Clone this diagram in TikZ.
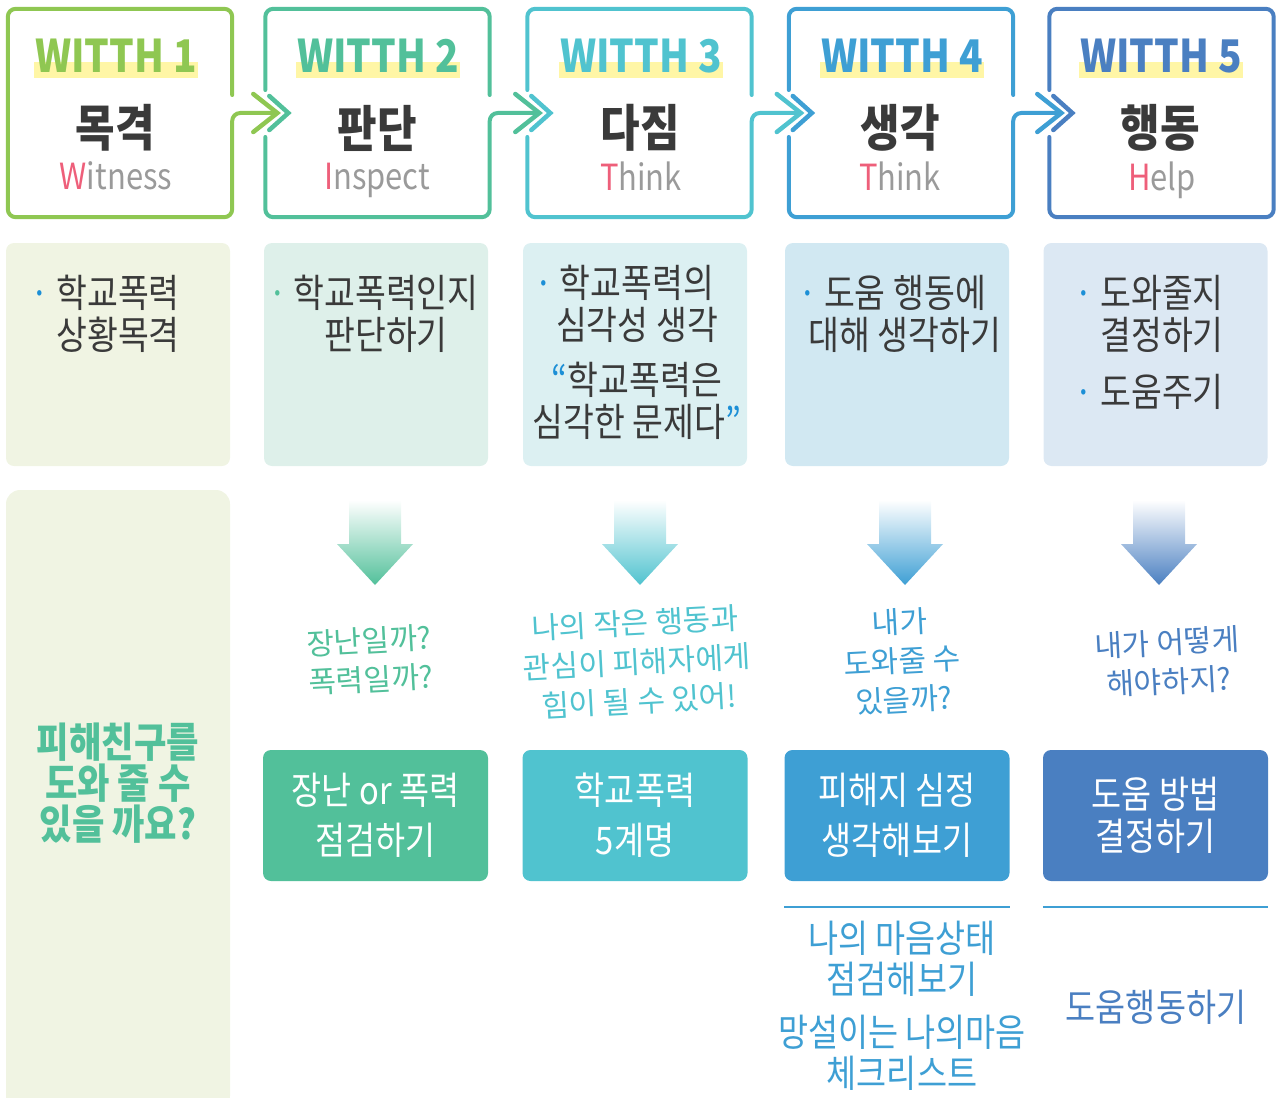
\documentclass[tikz,border=0pt]{standalone}
\usepackage{fontspec}
\usepackage{tikz}
\usetikzlibrary{calc}
\newfontfamily\kr{Noto Sans CJK KR}
\newfontfamily\krn[FakeStretch=0.86]{Noto Sans CJK KR}

\definecolor{with1}{HTML}{8FC752}
\definecolor{with2}{HTML}{52C09A}
\definecolor{with3}{HTML}{50C3CF}
\definecolor{with4}{HTML}{3E9FD4}
\definecolor{with5}{HTML}{4A7FC1}
\definecolor{hilite}{HTML}{FFF6A6}
\definecolor{darktext}{HTML}{3A3A3A}
\definecolor{greytext}{HTML}{9A9A9A}
\definecolor{pinkred}{HTML}{EE5F7A}
\definecolor{dotblue}{HTML}{1C8FD6}
\definecolor{bg1}{HTML}{F0F4E3}
\definecolor{bg2}{HTML}{DEF0EA}
\definecolor{bg3}{HTML}{DCF0F2}
\definecolor{bg4}{HTML}{D1E8F2}
\definecolor{bg5}{HTML}{DCE8F3}

\newcommand{\bul}[1]{\llap{{\color{#1}·}\,}}

\begin{document}
\begin{tikzpicture}[x=1pt, y=-1pt, every node/.style={inner sep=0pt, align=center},
		headbox/.style={minimum width=224pt, minimum height=208pt},
		outline/.style={line width=4pt, line cap=round, rounded corners=8pt},
		chev/.style={line width=4.5pt, line cap=round},
		withtxt/.style={font=\krn\bfseries\fontsize{45}{50}\selectfont, inner xsep=1pt, inner ysep=5pt,
			path picture={\fill[hilite] (path picture bounding box.south west) rectangle ([yshift=16pt]path picture bounding box.south east);}},
		titletxt/.style={font=\krn\bfseries\fontsize{50}{54}\selectfont, text=darktext},
		engtxt/.style={font=\krn\fontsize{36}{40}\selectfont, text=greytext, text depth=0pt},
		descbox/.style={rounded corners=8pt, minimum width=224pt, minimum height=223pt},
		desctxt/.style={font=\krn\fontsize{39}{42}\selectfont, text=darktext},
		handtxt/.style={font=\kr\fontsize{30}{39}\selectfont, rotate=3},
		stepbox/.style={rounded corners=8pt, minimum width=225pt, minimum height=131pt, text=white, font=\krn\fontsize{38}{50}\selectfont},
		sepline/.style={line width=2.5pt, with4}]
	\useasboundingbox (0,0) rectangle (1276,1097);

	% header boxes
	\node[headbox] (h1) at (120,113) {};
	\node[headbox] (h2) at (377.5,113) {};
	\node[headbox] (h3) at (639.5,113) {};
	\node[headbox] (h4) at (901,113) {};
	\node[headbox] (h5) at (1161.5,113) {};

	\coordinate (a12) at ($(h2.west)+(12pt,0)$);
	\coordinate (b12) at ($(h2.west)+(23pt,0)$);
	\coordinate (a23) at ($(h3.west)+(12pt,0)$);
	\coordinate (b23) at ($(h3.west)+(23pt,0)$);
	\coordinate (a34) at ($(h4.west)+(12pt,0)$);
	\coordinate (b34) at ($(h4.west)+(23pt,0)$);
	\coordinate (a45) at ($(h5.west)+(12pt,0)$);
	\coordinate (b45) at ($(h5.west)+(23pt,0)$);

	\draw[outline, with1] ([yshift=18pt]h1.east) |- (h1.north west) |- (h1.south east) -- (h1.east) -- (a12);
	\draw[outline, with2] ([yshift=23pt]h2.west) |- (h2.north east) -- ([yshift=18pt]h2.east);
	\draw[outline, with2] ([yshift=-24pt]h2.west) |- (h2.south east) -- (h2.east) -- (a23);
	\draw[outline, with3] ([yshift=23pt]h3.west) |- (h3.north east) -- ([yshift=18pt]h3.east);
	\draw[outline, with3] ([yshift=-24pt]h3.west) |- (h3.south east) -- (h3.east) -- (a34);
	\draw[outline, with4] ([yshift=23pt]h4.west) |- (h4.north east) -- ([yshift=18pt]h4.east);
	\draw[outline, with4] ([yshift=-24pt]h4.west) |- (h4.south east) -- (h4.east) -- (a45);
	\draw[outline, with5] ([yshift=23pt]h5.west) |- (h5.north east) |- (h5.south west) -- ([yshift=-24pt]h5.west);

	% double chevrons
	\draw[chev, with1] ($(a12)+(-24pt,19pt)$) -- (a12) -- ($(a12)+(-24pt,-19pt)$);
	\draw[chev, with2] ($(b12)+(-19pt,17pt)$) -- (b12) -- ($(b12)+(-19pt,-17pt)$);
	\draw[chev, with2] ($(a23)+(-24pt,19pt)$) -- (a23) -- ($(a23)+(-24pt,-19pt)$);
	\draw[chev, with3] ($(b23)+(-19pt,17pt)$) -- (b23) -- ($(b23)+(-19pt,-17pt)$);
	\draw[chev, with3] ($(a34)+(-24pt,19pt)$) -- (a34) -- ($(a34)+(-24pt,-19pt)$);
	\draw[chev, with4] ($(b34)+(-19pt,17pt)$) -- (b34) -- ($(b34)+(-19pt,-17pt)$);
	\draw[chev, with4] ($(a45)+(-24pt,19pt)$) -- (a45) -- ($(a45)+(-24pt,-19pt)$);
	\draw[chev, with5] ($(b45)+(-19pt,17pt)$) -- (b45) -- ($(b45)+(-19pt,-17pt)$);

	\node[withtxt, text=with1] (w1) at (116,56) {WITTH 1};
	\node[withtxt, text=with2] (w2) at (378,56) {WITTH 2};
	\node[withtxt, text=with3] (w3) at (641,56) {WITTH 3};
	\node[withtxt, text=with4] (w4) at (902,56) {WITTH 4};
	\node[withtxt, text=with5] (w5) at (1161,56) {WITTH 5};

	\node[titletxt] (t1) at (115,128) {목격};
	\node[titletxt] (t2) at (377,128) {판단};
	\node[titletxt] (t3) at (640,128) {다짐};
	\node[titletxt] (t4) at (900,128) {생각};
	\node[titletxt] (t5) at (1160,128) {행동};

	\node[engtxt] (e1) at (116,176) {{\color{pinkred}W}itness};
	\node[engtxt] (e2) at (377,176) {{\color{pinkred}I}nspect};
	\node[engtxt] (e3) at (641,176) {{\color{pinkred}T}hink};
	\node[engtxt] (e4) at (900,176) {{\color{pinkred}T}hink};
	\node[engtxt] (e5) at (1162,176) {{\color{pinkred}H}elp};

	% description boxes
	\node[descbox, fill=bg1] (d1) at (118,354.5) {};
	\node[descbox, fill=bg2] (d2) at (376,354.5) {};
	\node[descbox, fill=bg3] (d3) at (635,354.5) {};
	\node[descbox, fill=bg4] (d4) at (897,354.5) {};
	\node[descbox, fill=bg5] (d5) at (1155.5,354.5) {};

	\node[desctxt] (d1t) at (118,314) {\bul{dotblue}학교폭력\\상황목격};
	\node[desctxt] (d2t) at (386,314) {\bul{with2}학교폭력인지\\판단하기};
	\node[desctxt] (d3t) at (637,352.5) {\bul{dotblue}학교폭력의\\심각성 생각\\[13pt]{\color{dotblue}“}학교폭력은\\심각한 문제다{\color{dotblue}”}};
	\node[desctxt] (d4t) at (905,314) {\bul{dotblue}도움 행동에\\대해 생각하기};
	\node[desctxt] (d5t) at (1162,342) {\bul{dotblue}도와줄지\\결정하기\\[15pt]\bul{dotblue}도움주기};

	% left question box
	\node[rounded corners=14pt, fill=bg1, minimum width=224pt, minimum height=620pt] (q) at (118,800) {};
	\node[font=\krn\bfseries\fontsize{41}{41}\selectfont, text=with2] (qt) at (118,783) {피해친구를\\도와 줄 수\\있을 까요?};

	% gradient arrows
	\shade[top color=white, middle color=with2!85, bottom color=with2] (349,500) -- (401,500) -- (401,544) -- (413,544) -- (375,585) -- (337,544) -- (349,544) -- cycle;
	\shade[top color=white, middle color=with3!85, bottom color=with3] (614,500) -- (666,500) -- (666,544) -- (678,544) -- (640,585) -- (602,544) -- (614,544) -- cycle;
	\shade[top color=white, middle color=with4!85, bottom color=with4] (879,500) -- (931,500) -- (931,544) -- (943,544) -- (905,585) -- (867,544) -- (879,544) -- cycle;
	\shade[top color=white, middle color=with5!85, bottom color=with5] (1133,500) -- (1185,500) -- (1185,544) -- (1197,544) -- (1159,585) -- (1121,544) -- (1133,544) -- cycle;

	\node[handtxt, text=with2] (s1) at (370,660) {장난일까?\\폭력일까?};
	\node[handtxt, text=with3] (s2) at (637,662) {나의 작은 행동과\\관심이 피해자에게\\힘이 될 수 있어!};
	\node[handtxt, text=with4] (s3) at (902,661) {내가\\도와줄 수\\있을까?};
	\node[handtxt, text=with5] (s4) at (1168,662) {내가 어떻게\\해야하지?};

	% step boxes
	\node[stepbox, fill=with2] (b1) at (375.5,815.5) {장난 or 폭력\\점검하기};
	\node[stepbox, fill=with3] (b2) at (635,815.5) {학교폭력\\5계명};
	\node[stepbox, fill=with4] (b3) at (897,815.5) {피해지 심정\\생각해보기};
	\node[stepbox, fill=with5, font=\krn\fontsize{38}{42}\selectfont] (b4) at (1155.5,815.5) {도움 방법\\결정하기};

	\draw[sepline] ([yshift=-26pt]b3.south west) -- ([yshift=-26pt]b3.south east);
	\draw[sepline] ([yshift=-26pt]b4.south west) -- ([yshift=-26pt]b4.south east);

	\node[font=\krn\fontsize{38}{41}\selectfont, text=with4] (u3) at (902,1005.5) {나의 마음상태\\점검해보기\\[12pt]망설이는 나의마음\\체크리스트};
	\node[font=\krn\fontsize{38}{41}\selectfont, text=with5] (u4) at (1156,1007) {도움행동하기};
\end{tikzpicture}
\end{document}
